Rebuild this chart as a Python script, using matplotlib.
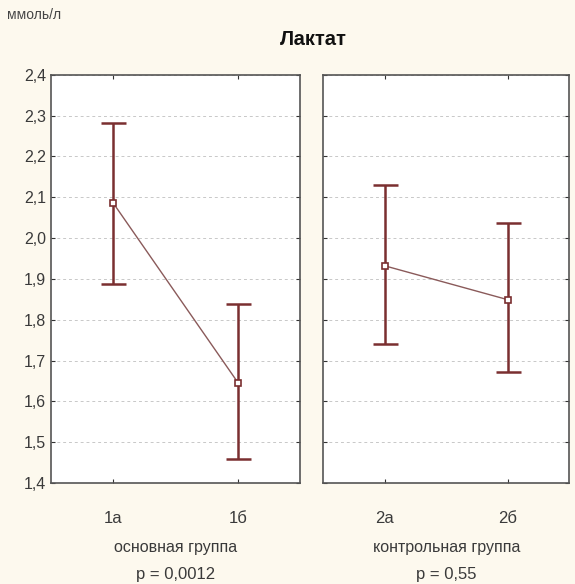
import matplotlib.pyplot as plt
from matplotlib.ticker import FuncFormatter

groups = ["основная группа", "контрольная группа"]
pvalues = ["p = 0,0012", "p = 0,55"]
labels = [["1а", "1б"], ["2а", "2б"]]
means = [[2.085, 1.646], [1.932, 1.849]]
upper = [[2.283, 1.839], [2.129, 2.037]]
lower = [[1.888, 1.459], [1.741, 1.671]]

yticks = [1.4, 1.5, 1.6, 1.7, 1.8, 1.9, 2.0, 2.1, 2.2, 2.3, 2.4]

plt.rcParams['font.family'] = ['Liberation Sans', 'DejaVu Sans']

BG = "#fdf9ee"
DARK = "#7a2f30"
TXT = "#3a3a3a"

fig = plt.figure(figsize=(5.75, 5.84), dpi=100, facecolor=BG)
positions = [[0.089, 0.173, 0.433, 0.699], [0.562, 0.173, 0.428, 0.699]]

for i in range(2):
    ax = fig.add_axes(positions[i])
    ax.set_facecolor("white")
    x = [0, 1]
    ax.plot(x, means[i], color="#8a5a5a", lw=1.0, zorder=2)
    yerr = [[m - l for m, l in zip(means[i], lower[i])],
            [u - m for m, u in zip(means[i], upper[i])]]
    ax.errorbar(x, means[i], yerr=yerr, fmt="none", ecolor=DARK,
                elinewidth=1.8, capsize=9, capthick=1.8, zorder=3)
    ax.plot(x, means[i], "s", ms=5, mfc="white", mec=DARK, mew=1.2, zorder=4)
    ax.set_xlim(-0.5, 1.5)
    ax.set_ylim(1.4, 2.4)
    ax.set_yticks(yticks)
    ax.yaxis.grid(True, ls=(0, (3, 3)), color="#c8c8c8", lw=0.7)
    ax.set_axisbelow(True)
    ax.set_xticks(x)
    ax.set_xticklabels(labels[i], fontsize=12, color=TXT)
    ax.tick_params(axis="x", direction="in", top=True, length=3, pad=20, color="#333333")
    ax.tick_params(axis="y", direction="in", right=True, length=3, color="#333333",
                   labelsize=11.5, labelcolor=TXT)
    if i == 0:
        ax.yaxis.set_major_formatter(FuncFormatter(lambda v, p: ("%.1f" % v).replace(".", ",")))
    else:
        ax.set_yticklabels([])
    for s in ax.spines.values():
        s.set_color("#555555")
        s.set_linewidth(1.2)
    cx = positions[i][0] + positions[i][2] / 2
    fig.text(cx, 0.062, groups[i], ha="center", va="center", fontsize=11.5, color=TXT)
    fig.text(cx, 0.016, pvalues[i], ha="center", va="center", fontsize=12, color=TXT)

fig.text(0.013, 0.975, "ммоль/л", ha="left", va="center", fontsize=10, color="#444444")
fig.text(0.545, 0.932, "Лактат", ha="center", va="center", fontsize=14.5,
         fontweight="bold", color="#111111")

fig.savefig("out.png", dpi=100, facecolor=BG)
